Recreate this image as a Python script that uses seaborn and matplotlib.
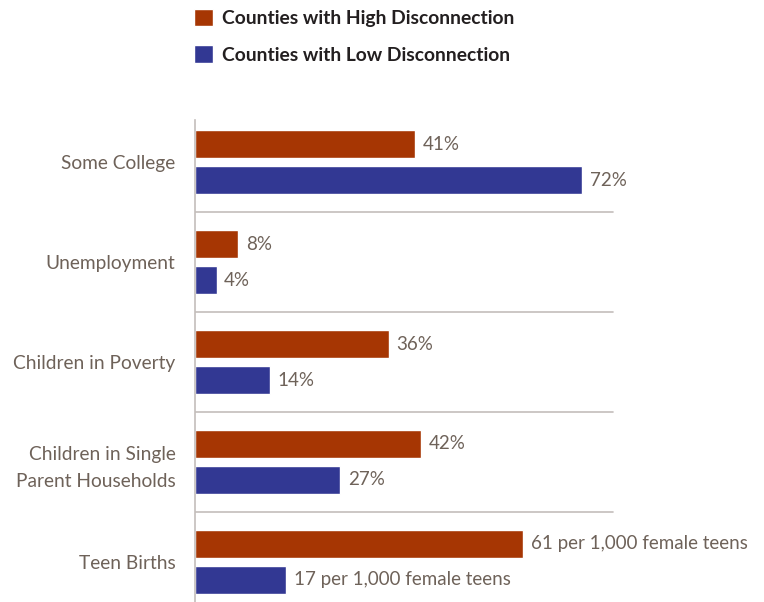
import matplotlib
matplotlib.use("Agg")
import matplotlib.pyplot as plt
import seaborn as sns
import pandas as pd

categories = ["Some College", "Unemployment", "Children in Poverty",
              "Children in Single\nParent Households", "Teen Births"]
series_names = ["Counties with High Disconnection", "Counties with Low Disconnection"]
high_values = [41, 8, 36, 42, 61]
low_values = [72, 4, 14, 27, 17]
high_labels = ["41%", "8%", "36%", "42%", "61 per 1,000 female teens"]
low_labels = ["72%", "4%", "14%", "27%", "17 per 1,000 female teens"]

colors = ["#A63603", "#323893"]
text_color = "#6E6259"
line_color = "#C4BEBB"

df = pd.DataFrame({
    "category": categories * 2,
    "series": [series_names[0]] * len(categories) + [series_names[1]] * len(categories),
    "value": high_values + low_values,
})

sns.set_theme(style="white")
plt.rcParams["font.family"] = ["Lato", "DejaVu Sans"]

fig = plt.figure(figsize=(7.64, 6.02), dpi=100)
left = 195 / 764
ax = fig.add_axes([left, 0.0, 1 - left, 1 - 120 / 602])

sns.barplot(data=df, y="category", x="value", hue="series", order=categories,
            hue_order=series_names, palette=colors, orient="h",
            width=0.72, gap=0.22, saturation=1, ax=ax)

ax.set_xlim(0, (764 - 195) / 5.375)
ax.set_ylim(4.4, -0.42)
ax.set_xlabel("")
ax.set_ylabel("")
ax.set_xticks([])

for sp in ["top", "right", "bottom"]:
    ax.spines[sp].set_visible(False)
ax.spines["left"].set_color(line_color)
ax.spines["left"].set_linewidth(1.2)

sep_end = (613 - 195) / 5.375
for i in range(len(categories) - 1):
    ax.plot([0, sep_end], [i + 0.5, i + 0.5], color=line_color, lw=1.2, zorder=0)

ax.tick_params(axis="y", length=0, pad=14, labelsize=13.8, labelcolor=text_color)
for t in ax.get_yticklabels():
    t.set_linespacing(1.7)

for cont, labs in zip(ax.containers, [high_labels, low_labels]):
    ax.bar_label(cont, labels=labs, padding=5.5, fontsize=13.5, color=text_color)

sns.move_legend(ax, loc="upper left", bbox_to_anchor=(186 / 764, 1 - 1 / 602),
                bbox_transform=fig.transFigure, frameon=False, title=None,
                handlelength=1.0, handleheight=1.0, handletextpad=0.47,
                labelspacing=0.95, borderaxespad=0,
                prop={"weight": "bold", "size": 13.9})
for t in ax.get_legend().get_texts():
    t.set_color("#231F20")

fig.savefig("out.png", dpi=100)
